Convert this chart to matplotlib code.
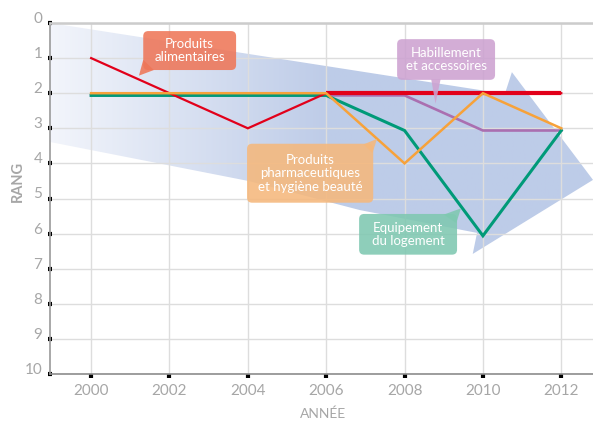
import numpy as np
import matplotlib.pyplot as plt
import matplotlib.transforms as mtransforms
from matplotlib.patches import Polygon, FancyBboxPatch

plt.rcParams['font.family'] = ['Lato', 'DejaVu Sans']

# ---------- data ----------
annees = [2000, 2002, 2004, 2006, 2008, 2010, 2012]
alimentaires = [1, 2, 3, 2, 2, 2, 2]
habillement = [2, 2, 2, 2, 2, 3, 3]
pharma = [2, 2, 2, 2, 4, 2, 3]
logement = [2, 2, 2, 2, 3, 6, 3]

rangs = list(range(0, 11))

ROUGE = "#e2001a"
ORANGE = "#f7a23a"
VERT = "#009a78"
VIOLET = "#aa6fb0"
GRIS = "#a6a6a6"

# big trend arrow (year, rank)
fleche_x = [1998.95, 2010.56, 2010.74, 2012.81, 2009.74, 2009.85, 2006.86, 2004.01, 1998.95]
fleche_y = [0.0, 2.02, 1.40, 4.47, 6.58, 5.98, 5.33, 4.50, 3.39]

# callouts: text, colour, box (x0, x1, y_top, y_bottom), tail (3 points)
bulles = [
    ("Produits\nalimentaires", "#ee7658",
     (2001.33, 2003.70, 0.23, 1.34),
     [(2001.33, 1.05), (2001.60, 1.34), (2001.22, 1.50)]),
    ("Habillement\net accessoires", "#cda2d1",
     (2007.81, 2010.31, 0.46, 1.62),
     [(2008.68, 1.60), (2008.92, 1.60), (2008.79, 2.30)]),
    ("Produits\npharmaceutiques\net hygiène beauté", "#f5b87c",
     (2003.98, 2007.20, 3.44, 5.12),
     [(2006.95, 3.46), (2007.18, 3.70), (2007.30, 3.30)]),
    ("Equipement\ndu logement", "#7fc8b1",
     (2006.84, 2009.34, 5.44, 6.60),
     [(2009.00, 5.46), (2009.32, 5.70), (2009.44, 5.28)]),
]

fig = plt.figure(figsize=(5.93, 4.21), dpi=100)
ax = fig.add_axes([50 / 593, 1 - 374 / 421, 543 / 593, 351 / 421])

# ---------- gradient arrow ----------
fleche = Polygon(list(zip(fleche_x, fleche_y)), closed=True,
                 facecolor="none", edgecolor="none")
ax.add_patch(fleche)
c0 = np.array([0.95, 0.96, 0.985])
c1 = np.array([0.745, 0.80, 0.91])
xs = np.linspace(1998.9, 2013, 300)
t = np.clip((xs - 1999) / 7.0, 0, 1)[:, None]
grad = (c0 * (1 - t) + c1 * t)[None, :, :]
img = ax.imshow(grad, extent=[1998.9, 2013, 10, -0.5], aspect="auto",
                zorder=0.2, interpolation="bilinear")
img.set_clip_path(fleche)

# ---------- lines ----------
dy = mtransforms.ScaledTranslation(0, -2.2 / 100, fig.dpi_scale_trans)
ax.plot(annees, habillement, color=VIOLET, lw=1.9, zorder=3,
        transform=ax.transData + dy, solid_joinstyle="miter")
ax.plot(annees, logement, color=VERT, lw=2.2, zorder=3.5,
        transform=ax.transData + dy, solid_joinstyle="miter")
ax.plot(annees, alimentaires, color=ROUGE, lw=1.6, zorder=4, solid_joinstyle="miter")
ax.plot(annees[3:], alimentaires[3:], color=ROUGE, lw=3.0, zorder=4,
        solid_capstyle="butt")
ax.plot(annees, pharma, color=ORANGE, lw=1.8, zorder=4.5, solid_joinstyle="miter")

# ---------- callouts ----------
for texte, couleur, (x0, x1, yt, yb), queue in bulles:
    box = FancyBboxPatch((x0, yt), x1 - x0, yb - yt,
                         boxstyle="round,pad=0,rounding_size=0.13",
                         mutation_aspect=1.11, facecolor=couleur,
                         edgecolor="none", alpha=0.88, zorder=6)
    ax.add_patch(box)
    ax.add_patch(Polygon(queue, closed=True, facecolor=couleur,
                         edgecolor="none", alpha=0.88, zorder=6))
    ax.text((x0 + x1) / 2, (yt + yb) / 2, texte, color="white", fontsize=9.5,
            ha="center", va="center", linespacing=1.15, zorder=7)

# ---------- axes ----------
ax.set_xlim(1998.95, 2012.81)
ax.set_ylim(10, 0)
ax.set_xticks(annees)
ax.set_yticks(rangs)
ax.grid(True, color="#dddddd", lw=1.0)
ax.set_axisbelow(True)
for lab in ax.get_yticklabels():
    lab.set_verticalalignment("baseline")

ax.tick_params(axis="y", direction="inout", length=3, width=3, color="black",
               labelcolor=GRIS, labelsize=11, pad=4)
ax.tick_params(axis="x", direction="out", length=3, width=3, color="black",
               labelcolor=GRIS, labelsize=11, pad=4)

ax.spines["right"].set_visible(False)
ax.spines["left"].set_color("#9a9a9a")
ax.spines["left"].set_linewidth(1.2)
ax.spines["bottom"].set_color("#8c8c8c")
ax.spines["bottom"].set_linewidth(1.2)
ax.spines["top"].set_color("#cccccc")
ax.spines["top"].set_linewidth(1.8)

fig.text(17.5 / 593, 1 - 181 / 421, "RANG", rotation=90, color=GRIS,
         fontsize=10.5, fontweight="bold", ha="center", va="center")
fig.text(323 / 593, 1 - 414 / 421, "ANNÉE", color=GRIS, fontsize=10,
         ha="center", va="center")

fig.savefig("out.png", dpi=100)
